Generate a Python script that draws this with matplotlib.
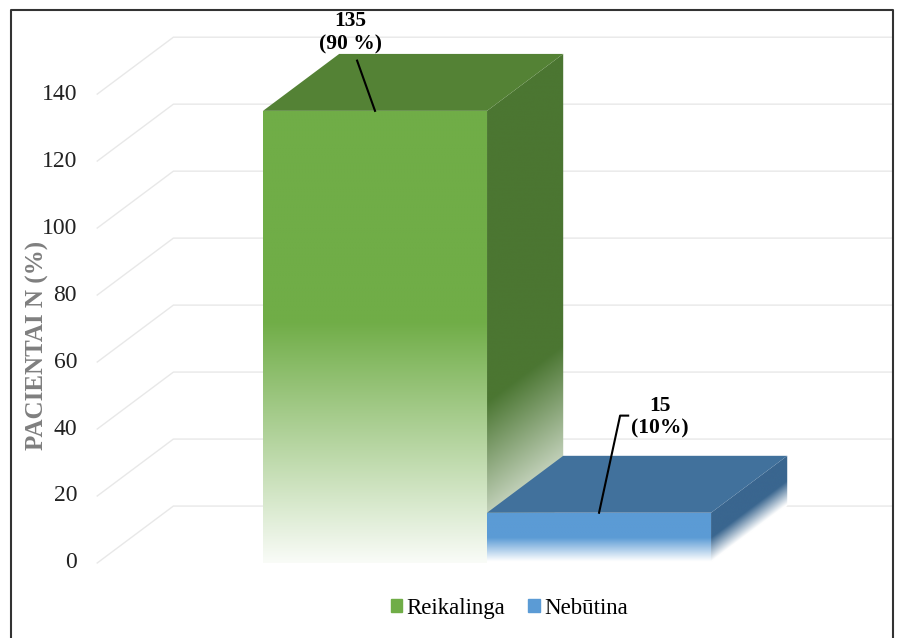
import numpy as np
import matplotlib.pyplot as plt
from matplotlib.patches import Polygon, Patch
from matplotlib.lines import Line2D
from matplotlib.colors import to_rgb

categories = ["Reikalinga", "Nebūtina"]
counts = [135, 15]
bar_labels = ["135\n(90 %)", "15\n(10%)"]
yticks = [0, 20, 40, 60, 80, 100, 120, 140]

front_colors = ["#70ad47", "#5b9bd5"]
top_colors = ["#548235", "#41719c"]
side_colors = ["#4b7632", "#3a668f"]

plt.rcParams['font.family'] = ['Liberation Serif', 'DejaVu Serif']

fig = plt.figure(figsize=(8.97, 6.38), dpi=100)
ax = fig.add_axes([0, 0, 1, 1])
ax.axis('off')

dx, dy = 0.34, 17.0   # depth offset of the fake 3d
w = 1.0


def shaded(pts, color, fade, zorder, side_x=None):
    # polygon filled with a gradient fading to white
    poly = Polygon(pts, closed=True, fc='none', ec='none', zorder=zorder)
    ax.add_patch(poly)
    xs = [p[0] for p in pts]
    ys = [p[1] for p in pts]
    x0, x1, y0, y1 = min(xs), max(xs), min(ys), max(ys)
    gx, gy = np.meshgrid(np.linspace(x0, x1, 150), np.linspace(y0, y1, 400))
    h = gy if side_x is None else gy - (gx - side_x) / dx * dy
    t = np.clip(fade(h), 0, 1)[..., None]
    c = np.array(to_rgb(color))
    img = 1 - t * (1 - c)
    im = ax.imshow(img, origin='lower', extent=[x0, x1, y0, y1], aspect='auto',
                   interpolation='bilinear', zorder=zorder)
    im.set_clip_path(poly)


# back wall grid + tick labels
for v in yticks:
    x0 = -1.24
    ax.plot([x0, x0 + dx, 2.31], [v, v + dy, v + dy], color='#e8e8e8', lw=1, zorder=0)
    ax.text(-1.33, v, str(v), ha='right', va='center', fontsize=17, color='#222222')

fades = [
    (lambda h: 0.04 + 0.96 * np.clip(h / 72, 0, 1),
     lambda h: 0.12 + 0.88 * np.clip((h - 3) / 45, 0, 1)),
    (lambda h: np.clip((h - 0.5) / 7, 0, 1),
     lambda h: np.clip((h - 0.5) / 7, 0, 1)),
]

xpos = np.arange(len(counts))
for i, (x, v) in enumerate(zip(xpos, counts)):
    l, r = x - w / 2, x + w / 2
    z = 2 + 3 * i
    shaded([(r, 0), (r, v), (r + dx, v + dy), (r + dx, dy)], side_colors[i],
           fades[i][1], z, side_x=r)
    ax.add_patch(Polygon([(l, v), (r, v), (r + dx, v + dy), (l + dx, v + dy)],
                         closed=True, fc=top_colors[i], ec='none', zorder=z + 1))
    shaded([(l, 0), (r, 0), (r, v), (l, v)], front_colors[i], fades[i][0], z + 2)

# data labels with leader lines
ax.plot([0, -0.08], [counts[0], 150], color='black', lw=1.5, zorder=10)
ax.text(-0.11, 158.3, bar_labels[0], ha='center', va='center', fontsize=15.5,
        fontweight='bold', linespacing=1.2, zorder=10)
ax.plot([1, 1.094, 1.13], [counts[1], 44, 44], color='black', lw=1.5, zorder=10)
ax.text(1.27, 43.5, bar_labels[1], ha='center', va='center', fontsize=15.5,
        fontweight='bold', linespacing=1.2, zorder=10)

ax.text(-1.505, 65, "PACIENTAI N (%)", rotation=90, ha='center', va='center',
        fontsize=18, fontweight='bold', color='#7f7f7f')

handles = [Patch(color=front_colors[0], label=categories[0]),
           Patch(color=front_colors[1], label=categories[1])]
ax.legend(handles=handles, loc='center', bbox_to_anchor=(0.568, 0.047), ncol=2,
          frameon=False, fontsize=16.5, handlelength=0.5, handleheight=0.5,
          handletextpad=0.2, columnspacing=1.0)

ax.set_xlim(-1.674, 2.330)
ax.set_ylim(-22.4, 168.1)

fig.add_artist(Line2D([0.0128, 0.0128, 0.9955, 0.9955], [0, 0.985, 0.985, 0],
                      transform=fig.transFigure, color='#333333', lw=1.5))

fig.savefig('out.png', dpi=100)
